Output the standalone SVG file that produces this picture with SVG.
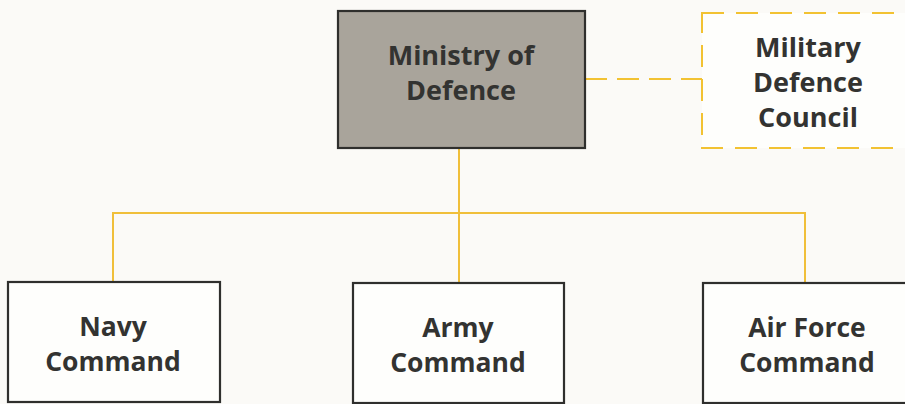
<svg xmlns="http://www.w3.org/2000/svg" width="905" height="404" viewBox="0 0 905 404">
<style>
.box{fill:#fefefc;stroke:#2f2f2d;stroke-width:2.2}
.main{fill:#a9a49b;stroke:#2f2f2d;stroke-width:2.2}
.dash{fill:#fefefc;stroke:#f2c232;stroke-width:2;stroke-dasharray:22 12}
.line{fill:none;stroke:#f0bf3a;stroke-width:2}
.dline{fill:none;stroke:#f2c232;stroke-width:2;stroke-dasharray:22 10}
text{font-family:"Open Sans","Noto Sans","DejaVu Sans",sans-serif;font-weight:700;font-size:27px;fill:#333331;text-anchor:middle}
.sm{font-size:26.5px}
</style>
<rect width="905" height="404" fill="#fbfaf7"/>
<g id="connectors">
<path class="line" d="M459 148 V213 M113 282 V213 H805 V283 M459 213 V283"/>
<path class="dline" d="M585 79 H702"/>
</g>
<g id="ministry">
<rect class="main" x="338" y="11" width="247" height="137"/>
<text x="461" y="65">Ministry of</text>
<text x="461" y="100">Defence</text>
</g>
<g id="council">
<rect class="dash" x="702" y="13" width="215" height="135"/>
<text x="808" y="57">Military</text>
<text x="808" y="92">Defence</text>
<text x="808" y="127">Council</text>
</g>
<g id="navy">
<rect class="box" x="8" y="282" width="212" height="120"/>
<text class="sm" x="113" y="336">Navy</text>
<text class="sm" x="113" y="371">Command</text>
</g>
<g id="army">
<rect class="box" x="353" y="283" width="211" height="120"/>
<text class="sm" x="458" y="337">Army</text>
<text class="sm" x="458" y="372">Command</text>
</g>
<g id="airforce">
<rect class="box" x="703" y="283" width="212" height="120"/>
<text class="sm" x="807" y="337">Air Force</text>
<text class="sm" x="807" y="372">Command</text>
</g>
</svg>
